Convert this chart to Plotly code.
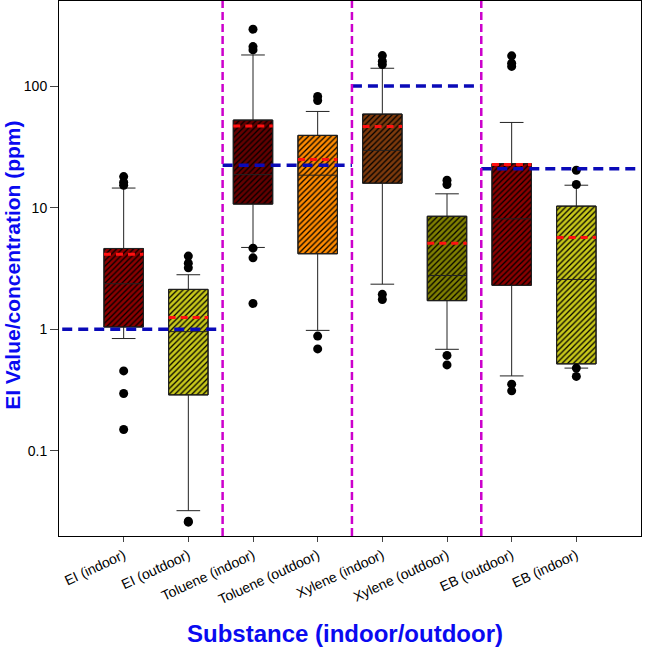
import plotly.graph_objects as go

categories = ["EI (indoor)", "EI (outdoor)", "Toluene (indoor)", "Toluene (outdoor)",
              "Xylene (indoor)", "Xylene (outdoor)", "EB (outdoor)", "EB (indoor)"]
q1 = [1.045, 0.289, 10.7, 4.18, 15.9, 1.72, 2.30, 0.52]
median = [2.37, 0.957, 18.7, 18.5, 29.6, 2.77, 8.1, 2.57]
q3 = [4.62, 2.13, 52.5, 39.3, 58.8, 8.5, 23.0, 10.3]
lower_whisker = [0.84, 0.0323, 4.71, 0.98, 2.35, 0.685, 0.414, 0.48]
upper_whisker = [14.5, 2.81, 180, 61.8, 140, 13.0, 50.2, 15.3]
mean = [4.15, 1.25, 46.9, 24.9, 46.5, 5.1, 22.6, 5.69]
outliers = [
    [15.3, 16.2, 18.0, 0.455, 0.297, 0.150],
    [3.2, 3.5, 4.0, 0.026, 0.0265],
    [198, 211, 293, 4.65, 3.87, 1.63],
    [76, 82, 0.88, 0.69],
    [150, 160, 178, 1.94, 1.76],
    [15.5, 16.8, 0.61, 0.51],
    [145, 154, 177, 0.354, 0.312],
    [20.3, 15.5, 0.48, 0.41],
]
box_colors = ["#8B0000", "#C8C81A", "#640000", "#FF8A00",
              "#7E3A0C", "#808000", "#8B0000", "#C8C81A"]

# EI (exposure index) values per substance group
ei_values = [1.0, 22.3, 100.0, 20.9]
ei_start = [-0.95, 1.53, 3.53, 5.53]
ei_end = [1.53, 3.53, 5.53, 8.0]
group_bounds = [1.53, 3.53, 5.53]

BW = 0.61
xs = list(range(len(categories)))
TITLE_BLUE = "#0A0AF0"
FONT = "Liberation Sans, Arial, sans-serif"

fig = go.Figure()

# hatched boxes
for i in xs:
    fig.add_trace(go.Bar(
        x=[i], y=[q3[i] - q1[i]], base=[q1[i]], width=BW,
        marker=dict(color=box_colors[i],
                    line=dict(color="black", width=1),
                    pattern=dict(shape="/", fgcolor="black", bgcolor=box_colors[i],
                                 size=4, solidity=0.32, fillmode="replace")),
        showlegend=False, hoverinfo="skip"))

# box outlines, medians, whiskers
for i in xs:
    fig.add_trace(go.Box(
        x=[i], q1=[q1[i]], median=[median[i]], q3=[q3[i]],
        lowerfence=[lower_whisker[i]], upperfence=[upper_whisker[i]],
        width=BW, whiskerwidth=0.6, fillcolor="rgba(0,0,0,0)",
        line=dict(color="#222222", width=1), boxpoints=False,
        showlegend=False))

# means (red dashed)
for i in xs:
    fig.add_trace(go.Scatter(
        x=[i - BW / 2, i + BW / 2], y=[mean[i], mean[i]], mode="lines",
        line=dict(color="#FF1010", width=3, dash="7px,5px"),
        showlegend=False, hoverinfo="skip"))

# outliers
for i in xs:
    fig.add_trace(go.Scatter(
        x=[i] * len(outliers[i]), y=outliers[i], mode="markers",
        marker=dict(color="black", size=9),
        showlegend=False))

# EI value reference lines
for v, a, b in zip(ei_values, ei_start, ei_end):
    fig.add_trace(go.Scatter(
        x=[a, b], y=[v, v], mode="lines",
        line=dict(color="#0A0AB8", width=3.5, dash="10px,6px"),
        showlegend=False, hoverinfo="skip"))

# group separators
for g in group_bounds:
    fig.add_shape(type="line", x0=g, x1=g, y0=0, y1=1, xref="x", yref="paper",
                  line=dict(color="#CC00CC", width=2.5, dash="8px,4px"), layer="above")

# axis titles
fig.add_annotation(text="<b>Substance (indoor/outdoor)</b>", xref="paper", yref="paper",
                   x=0.492, y=-0.183, xanchor="center", yanchor="middle", showarrow=False,
                   font=dict(size=24, color=TITLE_BLUE, family=FONT))
fig.add_annotation(text="<b>EI Value/concentration (ppm)</b>", xref="paper", yref="paper",
                   x=-0.079, y=0.505, xanchor="center", yanchor="middle", showarrow=False,
                   textangle=-90,
                   font=dict(size=21, color=TITLE_BLUE, family=FONT))

fig.update_layout(
    width=645, height=648,
    margin=dict(l=59, r=4, t=1, b=112),
    plot_bgcolor="white", paper_bgcolor="white",
    font=dict(family=FONT, color="black"),
    showlegend=False,
    barmode="overlay",
)
fig.update_xaxes(
    range=[-1, 8], tickvals=xs, ticktext=categories, tickangle=-25,
    tickfont=dict(size=14), ticks="outside", ticklen=5, tickcolor="#444",
    showline=True, linecolor="black", linewidth=1, mirror=True, showgrid=False,
    zeroline=False, automargin=False,
)
fig.update_yaxes(
    type="log", range=[-1.69897, 2.69897],
    tickvals=[0.1, 1, 10, 100], ticktext=["0.1", "1", "10", "100"],
    tickfont=dict(size=14), ticks="outside", ticklen=8, tickcolor="#444",
    showline=True, linecolor="black", linewidth=1, mirror=True, showgrid=False,
    zeroline=False, automargin=False,
)

fig.write_html("out.html",
               config={"displayModeBar": False},
               post_script="document.body.style.margin='0';document.body.style.overflow='hidden';")
